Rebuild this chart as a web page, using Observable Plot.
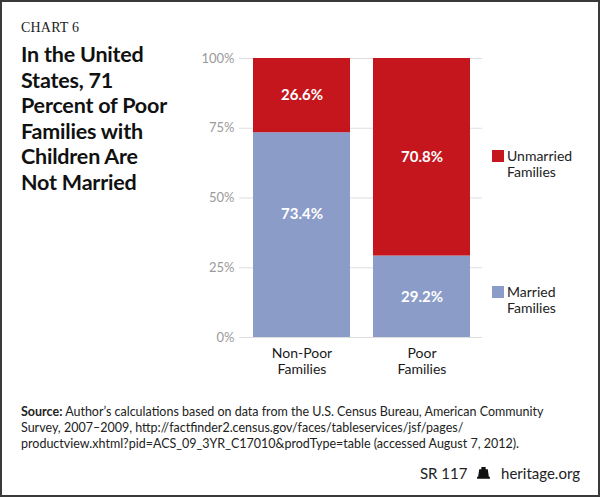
<!DOCTYPE html>
<html><head><meta charset="utf-8">
<script src="https://cdn.jsdelivr.net/npm/d3@7"></script>
<script src="https://cdn.jsdelivr.net/npm/@observablehq/plot@0.6"></script>
<style>
body{margin:0;background:#fff;}
#frame{position:relative;width:600px;height:497px;box-sizing:border-box;border:2px solid #3a3a3a;overflow:hidden;font-family:Lato,sans-serif;color:#1a1a1a;background:#fff;}
#kicker{position:absolute;left:19px;top:18px;font-family:"Liberation Serif",serif;font-size:14px;letter-spacing:0.2px;color:#222;}
#title{position:absolute;left:19px;top:40px;font-family:Lato,sans-serif;font-weight:700;font-size:21.5px;line-height:25.5px;color:#111;letter-spacing:-0.2px;}
#chart{position:absolute;left:-2px;top:-2px;width:600px;height:392px;}
#chart svg{max-width:none !important;}
.leg{position:absolute;left:505px;font-size:14px;line-height:16px;color:#222;}
.sw{position:absolute;left:-15px;top:2px;width:12px;height:12px;}
#source{position:absolute;left:19px;top:402px;font-size:12.5px;line-height:16px;color:#222;width:570px;}
#credit{position:absolute;right:18px;top:462px;font-size:15px;color:#222;}
</style></head><body>
<div id="frame">
  <div id="kicker">CHART 6</div>
  <div id="title"></div>
  <div id="chart"></div>
  <div id="legend"></div>
  <div id="source"><b>Source:</b> Author’s calculations based on data from the U.S. Census Bureau, American Community<br>Survey, 2007–2009, http://factfinder2.census.gov/faces/tableservices/jsf/pages/<br>productview.xhtml?pid=ACS_09_3YR_C17010&amp;prodType=table (accessed August 7, 2012).</div>
  <div id="credit">SR 117 <svg width="15" height="13" viewBox="0 0 14 12" style="vertical-align:-1px;margin:0 6px 0 5px"><path d="M5 0h4v2h-4zM3 2h8l1 7h-10zM1 9h12v2h-12z" fill="#111"/></svg> heritage.org</div>
</div>
<script>
const titleLines = ["In the United", "States, 71", "Percent of Poor", "Families with", "Children Are", "Not Married"];
const categories = ["Non-Poor Families", "Poor Families"];
const series = ["Married Families", "Unmarried Families"];
const married = [73.4, 29.2];
const unmarried = [26.6, 70.8];
const yTicks = [0, 25, 50, 75, 100];
const colors = ["#8b9cc9", "#c5161d"];

document.getElementById("title").innerHTML = titleLines.join("<br>");

const rows = [];
categories.forEach((c, i) => {
  rows.push({cat: c, status: series[0], value: married[i]});
  rows.push({cat: c, status: series[1], value: unmarried[i]});
});
// label rows with stacked midpoints
const labels = [];
categories.forEach((c, i) => {
  labels.push({cat: c, status: series[0], value: married[i], mid: married[i] / 2, lift: i === 0});
  labels.push({cat: c, status: series[1], value: unmarried[i], mid: married[i] + unmarried[i] / 2, lift: false});
});
const fmt = d => d.value.toFixed(1) + "%";

const chart = Plot.plot({
  width: 600, height: 392,
  marginTop: 58, marginBottom: 55, marginLeft: 239, marginRight: 118,
  style: {fontFamily: "Lato, sans-serif", background: "transparent", overflow: "visible", maxWidth: "none"},
  x: {domain: categories, range: [252, 471], paddingInner: 0.19, paddingOuter: 0, label: null},
  y: {domain: [0, 100], label: null},
  color: {domain: series, range: colors},
  marks: [
    Plot.ruleY(yTicks, {stroke: "#dedede", strokeWidth: 1.2}),
    Plot.barY(rows, Plot.stackY({x: "cat", y: "value", fill: "status", order: series})),
    Plot.text(labels.filter(d => !d.lift), {x: "cat", y: "mid", text: fmt, fill: "white", fontWeight: "bold", fontSize: 15}),
    Plot.text(labels.filter(d => d.lift), {x: "cat", y: "mid", text: fmt, fill: "white", fontWeight: "bold", fontSize: 15, dy: -21}),
    Plot.axisY({ticks: yTicks, tickSize: 0, tickPadding: 5, tickFormat: d => d + "%", fontSize: 13, color: "#9a9a9a"}),
    Plot.axisX({tickSize: 0, tickPadding: 9, fontSize: 14, tickFormat: d => d.replace(" ", "\n"), lineHeight: 1.15, color: "#1a1a1a"})
  ]
});
document.getElementById("chart").appendChild(chart);

// legend from series/colors
const legTops = {"Unmarried Families": 146, "Married Families": 282};
const leg = document.getElementById("legend");
[series[1], series[0]].forEach(s => {
  const d = document.createElement("div");
  d.className = "leg";
  d.style.top = legTops[s] + "px";
  const sw = document.createElement("span");
  sw.className = "sw";
  sw.style.background = colors[series.indexOf(s)];
  d.appendChild(sw);
  d.insertAdjacentHTML("beforeend", s.replace(" ", "<br>"));
  leg.appendChild(d);
});
</script>
</body></html>
